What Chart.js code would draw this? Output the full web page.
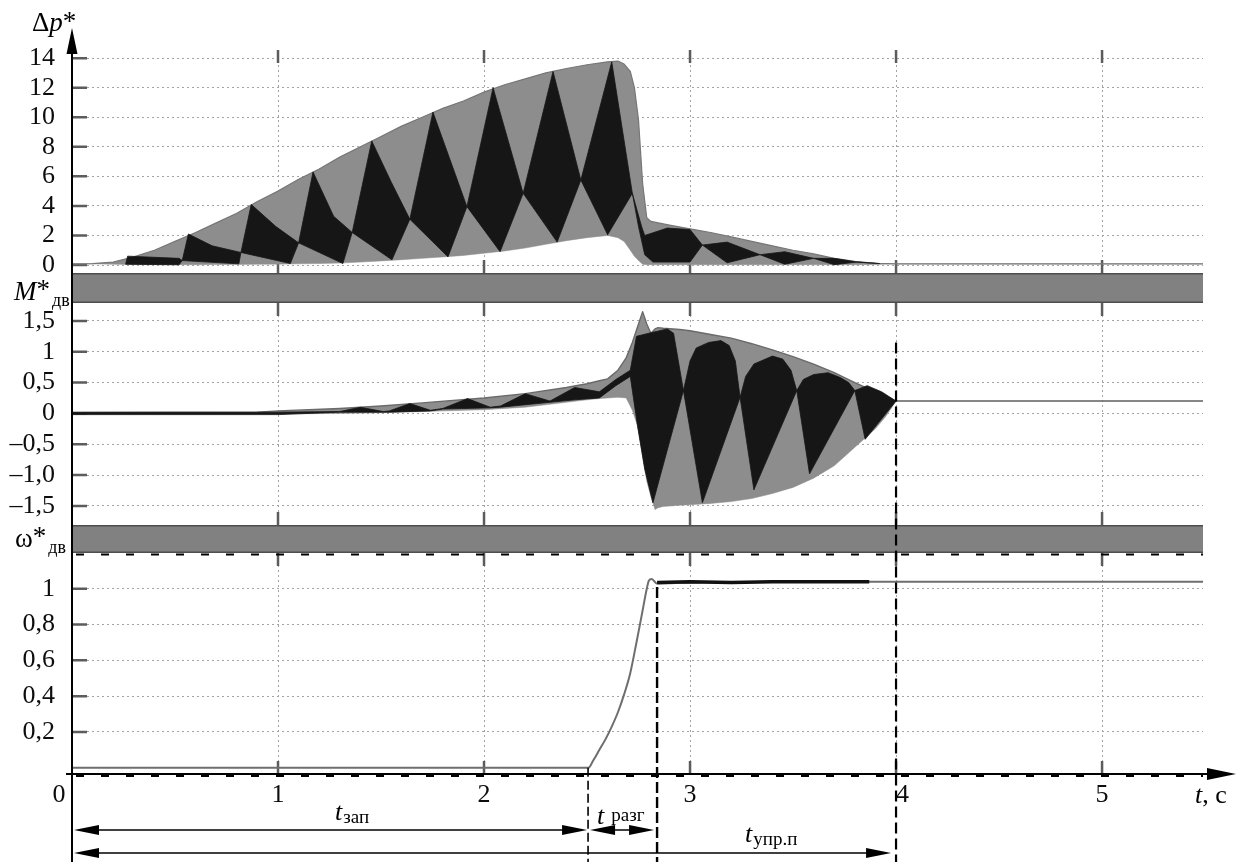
<!DOCTYPE html>
<html><head><meta charset="utf-8">
<script src="https://cdn.jsdelivr.net/npm/chart.js@4/dist/chart.umd.min.js"></script>
<style>html,body{margin:0;padding:0;background:#fff}#wrap{width:1240px;height:866px;position:relative}</style>
</head><body><div id="wrap"><canvas id="c" width="1240" height="866"></canvas></div>
<script>
// ---- top panel: Δp* envelope (gray) ----
const pT  = [0,0.1,0.2,0.3,0.4,0.5,0.6,0.7,0.8,0.9, 1.0,1.1,1.2,1.3,1.4,1.5,1.6,1.7,1.8,1.9, 2.0,2.1,2.2,2.3,2.4,2.5,2.6,2.65,2.68,2.71, 2.73,2.75,2.77,2.79,2.81,2.9,3.0,3.1,3.2,3.3, 3.4,3.5,3.6,3.7,3.8,3.9,4.0,5.5];
const pUp = [0.08,0.1,0.2,0.55,1.0,1.6,2.2,2.85,3.5,4.3, 5.0,5.8,6.5,7.3,8.0,8.7,9.4,10.0,10.6,11.1, 11.7,12.2,12.6,13.0,13.3,13.55,13.75,13.8,13.6,13.1, 12.0,9.8,5.5,3.2,2.95,2.7,2.45,2.2,1.9,1.6, 1.3,1.0,0.75,0.45,0.25,0.12,0.08,0.08];
const pLo = [0.08,0.08,0.05,0.03,0.02,0.02,0.02,0.03,0.04,0.05, 0.06,0.08,0.1,0.13,0.2,0.28,0.36,0.45,0.55,0.65, 0.8,0.95,1.15,1.4,1.65,1.85,2.0,1.85,1.6,1.0, 0.6,0.3,0.05,0.02,0.02,0.02,0.02,0.02,0.02,0.02, 0.02,0.02,0.02,0.02,0.02,0.03,0.08,0.08];
// ---- top panel: black beat lobes ----
const pBTt = [0.26,0.27,0.52,0.535,0.565,0.68,0.82,0.87,0.99,1.10, 1.17,1.27,1.36,1.455,1.55,1.64,1.752,1.917,2.044,2.19, 2.335,2.47,2.62,2.72,2.745,2.765,2.78,2.89,3.0,3.06, 3.18,3.34,3.46,3.60,3.70,3.81,3.92];
const pBTv = [0.05,0.6,0.45,0.3,2.1,1.3,0.85,4.1,2.6,1.5, 6.3,3.3,2.2,8.4,5.6,3.1,10.35,3.95,12.0,4.85, 13.1,5.75,13.75,4.85,3.6,2.6,2.0,2.5,2.4,1.35, 1.55,0.7,0.9,0.45,0.45,0.2,0.1];
const pBBt = [0.26,0.52,0.535,0.81,0.82,1.06,1.10,1.315,1.36,1.553, 1.64,1.825,1.917,2.078,2.19,2.355,2.47,2.60,2.72,2.75, 2.78,2.82,3.0,3.06,3.18,3.34,3.46,3.60,3.70,3.81, 3.92];
const pBBv = [0.05,0.02,0.3,0.08,0.85,0.1,1.5,0.1,2.2,0.35, 3.1,0.55,3.95,0.9,4.85,1.55,5.75,2.05,4.85,2.6, 0.7,0.2,0.2,1.35,0.15,0.7,0.05,0.45,0.02,0.2, 0.1];
// ---- middle panel: M*дв envelope ----
const mT  = [0,0.9,1.0,1.3,1.5,1.7,2.0,2.2,2.4,2.5, 2.56,2.6,2.65,2.69,2.72,2.745,2.77,2.79,2.81,2.83, 2.845,2.87,2.95,3.0,3.1,3.2,3.3,3.4,3.5,3.6, 3.7,3.8,3.9,3.95,4.0,5.5];
const mUp = [0.01,0.02,0.04,0.08,0.12,0.17,0.25,0.32,0.42,0.48, 0.53,0.56,0.7,0.9,1.15,1.4,1.65,1.45,1.3,1.37, 1.39,1.38,1.36,1.34,1.28,1.22,1.13,1.03,0.92,0.8, 0.66,0.5,0.35,0.27,0.2,0.2];
const mLo = [-0.01,-0.01,-0.01,0,0.01,0.03,0.06,0.1,0.18,0.22, 0.24,0.25,0.26,0.25,0.05,-0.2,-0.7,-1.1,-1.35,-1.56, -1.53,-1.51,-1.49,-1.48,-1.46,-1.43,-1.38,-1.3,-1.2,-1.05, -0.85,-0.55,-0.25,-0.05,0.2,0.2];
// ---- middle panel: black lobes ----
const mBTt = [0,1.0,1.30,1.40,1.51,1.54,1.64,1.74,1.80,1.92, 2.03,2.08,2.20,2.32,2.44,2.56,2.64,2.71,2.74,2.80, 2.89,2.92,2.968,3.0,3.03,3.09,3.15,3.19,3.22,3.243, 3.27,3.31,3.40,3.45,3.49,3.518,3.55,3.60,3.67,3.73, 3.77,3.80,3.86,3.93,4.0];
const mBTv = [0.02,0.02,0.03,0.1,0.03,0.04,0.16,0.05,0.08,0.24, 0.1,0.12,0.32,0.2,0.42,0.35,0.55,0.7,1.25,1.3, 1.37,1.3,0.37,0.85,1.06,1.15,1.18,1.1,0.85,0.26, 0.6,0.8,0.93,0.88,0.7,0.37,0.55,0.63,0.66,0.58, 0.5,0.37,0.45,0.35,0.2];
const mBBt = [0,1.0,1.30,1.51,1.54,1.74,1.80,2.03,2.08,2.32, 2.44,2.56,2.64,2.71,2.745,2.78,2.82,2.968,3.06,3.243, 3.31,3.518,3.58,3.80,3.85,4.0];
const mBBv = [-0.02,-0.02,0.02,0.02,0.02,0.04,0.07,0.09,0.1,0.18, 0.22,0.25,0.45,0.6,-0.2,-0.9,-1.45,0.37,-1.45,0.26, -1.24,0.37,-0.98,0.37,-0.42,0.2];
// ---- bottom panel: ω*дв ----
const wT = [0,2.507,2.53,2.56,2.59,2.62,2.65,2.68,2.71,2.74,2.77,2.79,2.80,2.814,2.838,3.0,3.5,4.0,5.49];
const wV = [0,0,0.04,0.1,0.16,0.23,0.31,0.41,0.53,0.70,0.88,1.0,1.045,1.055,1.03,1.035,1.04,1.04,1.04];
const wNT = [2.84,3.0,3.2,3.4,3.6,3.8,3.87];
const wNV = [1.035,1.04,1.035,1.04,1.04,1.04,1.04];
// ---- ticks ----
const xTickVals = [0,1,2,3,4,5];
const xTickLabels = ['0    ','1','2','3','  4','5'];
const pTickVals = [0,2,4,6,8,10,12,14];
const pTickLabels = ['0','2','4','6','8','10','12','14'];
const mTickVals = [-1.5,-1,-0.5,0,0.5,1,1.5];
const mTickLabels = ['\u20131,5','\u20131,0','\u20130,5','0','0,5','1','1,5'];
const wTickVals = [0.2,0.4,0.6,0.8,1];
const wTickLabels = ['0,2','0,4','0,6','0,8','1'];
// ---- markers (time instants) ----
const tStart = 2.505, tRise = 2.84, tEnd = 4.0;

const SERIF = "'Liberation Serif','Times New Roman',serif";
const GRAY = '#8d8d8d', BLACK = '#161616';
const pts = (t, v) => t.map((x, i) => ({x, y: v[i]}));

function yAxis(weight, sw, min, max, vals, labels) {
  return {
    type: 'linear', position: 'left', stack: 'v', stackWeight: sw, weight, min, max,
    afterBuildTicks: s => { s.ticks = vals.map(v => ({value: v})); },
    afterFit: s => { s.width = 72; },
    ticks: {callback: (v, i) => labels[i], font: {family: SERIF, size: 26}, color: '#0d0d0d', padding: 17, autoSkip: false},
    grid: {color: '#a4a4a4', lineWidth: 1, drawTicks: false},
    border: {display: false, dash: [2, 3]}
  };
}
function gapAxis(weight, sw) {
  return {type: 'linear', position: 'left', stack: 'v', stackWeight: sw, weight, min: 0, max: 1,
    afterFit: s => { s.width = 72; },
    ticks: {display: false}, grid: {display: false}, border: {display: false}};
}

function drawTri(ctx, a, b, c) { ctx.beginPath(); ctx.moveTo(a[0], a[1]); ctx.lineTo(b[0], b[1]); ctx.lineTo(c[0], c[1]); ctx.closePath(); ctx.fill(); }
function hArrow(ctx, x1, x2, y, head1, head2) {
  ctx.lineWidth = 1.5; ctx.setLineDash([]);
  ctx.beginPath(); ctx.moveTo(x1 + (head1 ? 10 : 0), y); ctx.lineTo(x2 - (head2 ? 10 : 0), y); ctx.stroke();
  if (head1) drawTri(ctx, [x1, y], [x1 + 25, y - 5], [x1 + 25, y + 5]);
  if (head2) drawTri(ctx, [x2, y], [x2 - 25, y - 5], [x2 - 25, y + 5]);
}
function put(ctx, s, x, y, font) { ctx.font = font; ctx.fillText(s, x, y); return ctx.measureText(s).width; }

const deco = {
  id: 'deco',
  beforeDatasetsDraw(chart) {
    const {ctx, chartArea: a, scales} = chart;
    ctx.save();
    ['g1', 'g2'].forEach(id => {
      const s = scales[id];
      ctx.fillStyle = '#818181';
      ctx.fillRect(a.left, s.top, a.right - a.left, s.bottom - s.top);
      ctx.strokeStyle = '#4e4e4e'; ctx.lineWidth = 1.5;
      ctx.beginPath();
      ctx.moveTo(a.left, s.top + 0.75); ctx.lineTo(a.right, s.top + 0.75);
      ctx.moveTo(a.left, s.bottom - 0.75); ctx.lineTo(a.right, s.bottom - 0.75);
      ctx.stroke();
    });
    ctx.strokeStyle = '#5c5c5c'; ctx.lineWidth = 2.5;
    ['yP', 'yM', 'yW'].forEach(id => {
      const s = scales[id];
      ctx.beginPath();
      s.ticks.forEach(t => { const y = s.getPixelForValue(t.value); ctx.moveTo(a.left, y); ctx.lineTo(a.left + 15, y); });
      scales.x.ticks.forEach(t => {
        if (t.value === 0) return;
        const x = scales.x.getPixelForValue(t.value);
        ctx.moveTo(x, s.top); ctx.lineTo(x, s.top + 13);
        ctx.moveTo(x, s.bottom); ctx.lineTo(x, s.bottom - 13);
      });
      ctx.stroke();
    });
    ctx.restore();
  },
  afterDraw(chart) {
    const {ctx, chartArea: a, scales} = chart;
    const X = v => scales.x.getPixelForValue(v);
    const sW = scales.yW, sM = scales.yM;
    ctx.save();
    ctx.fillStyle = '#000'; ctx.strokeStyle = '#000';
    ctx.lineWidth = 2; ctx.setLineDash([8, 17]);
    ctx.beginPath(); ctx.moveTo(a.left + 4, sW.top + 1.5); ctx.lineTo(a.right, sW.top + 1.5);
    ctx.moveTo(a.left + 4, a.bottom + 2); ctx.lineTo(a.right, a.bottom + 2); ctx.stroke();
    ctx.setLineDash([]);
    ctx.lineWidth = 2;
    ctx.beginPath(); ctx.moveTo(a.left, 50); ctx.lineTo(a.left, 862); ctx.stroke();
    drawTri(ctx, [a.left, 28], [a.left - 5.5, 54], [a.left + 5.5, 54]);
    ctx.beginPath(); ctx.moveTo(66, a.bottom); ctx.lineTo(1210, a.bottom); ctx.stroke();
    drawTri(ctx, [1236, a.bottom], [1207, a.bottom - 6], [1207, a.bottom + 6]);
    const marks = [[tStart, sW.getPixelForValue(0.0), 1.6, [9, 4]], [tRise, sW.getPixelForValue(1.01), 2.4, [11, 4]], [tEnd, sM.getPixelForValue(1.15), 2.2, [11, 5]]];
    marks.forEach(m => {
      ctx.lineWidth = m[2]; ctx.setLineDash(m[3]);
      ctx.beginPath(); ctx.moveTo(X(m[0]), m[1]); ctx.lineTo(X(m[0]), 862); ctx.stroke();
    });
    ctx.setLineDash([]);
    hArrow(ctx, a.left + 2, X(tStart) - 1, 830, true, true);
    hArrow(ctx, X(tStart) + 2, X(tRise) - 3, 830, true, true);
    hArrow(ctx, a.left + 2, X(tEnd) - 5, 853, true, true);
    ctx.textAlign = 'left'; ctx.textBaseline = 'alphabetic';
    let x = X(1.277);
    x += put(ctx, 't', x, 820, 'italic 26px ' + SERIF) + 1;
    put(ctx, 'зап', x, 823, '19px ' + SERIF);
    x = X(2.549);
    x += put(ctx, 't', x, 824, 'italic 26px ' + SERIF) + 7;
    put(ctx, 'разг', x, 821, '19px ' + SERIF);
    x = X(3.267);
    x += put(ctx, 't', x, 842, 'italic 26px ' + SERIF) + 1;
    put(ctx, 'упр.п', x, 845, '19px ' + SERIF);
    x = 32;
    x += put(ctx, 'Δ', x, 31, '27px ' + SERIF);
    x += put(ctx, 'p', x, 31, 'italic 27px ' + SERIF);
    put(ctx, '*', x, 30, '27px ' + SERIF);
    x = 14;
    x += put(ctx, 'M', x, 300, 'italic 27px ' + SERIF);
    x += put(ctx, '*', x, 298, '27px ' + SERIF);
    put(ctx, 'дв', x + 2, 306, '18px ' + SERIF);
    x = 15;
    x += put(ctx, 'ω', x, 547, '27px ' + SERIF);
    x += put(ctx, '*', x, 545, '27px ' + SERIF);
    put(ctx, 'дв', x + 2, 553, '18px ' + SERIF);
    x = 1195;
    x += put(ctx, 't', x, 803, 'italic 26px ' + SERIF);
    put(ctx, ', с', x, 803, '26px ' + SERIF);
    ctx.restore();
  }
};

const lineBase = {pointRadius: 0, tension: 0, borderJoinStyle: 'round'};
new Chart(document.getElementById('c'), {
  type: 'line',
  data: {datasets: [
    Object.assign({data: pts(pT, pUp), yAxisID: 'yP', fill: 1, backgroundColor: GRAY, borderColor: '#777', borderWidth: 1.2, order: 3}, lineBase),
    Object.assign({data: pts(pT, pLo), yAxisID: 'yP', fill: false, borderColor: GRAY, borderWidth: 0.5, order: 3}, lineBase),
    Object.assign({data: pts(pBTt, pBTv), yAxisID: 'yP', fill: 3, backgroundColor: BLACK, borderColor: BLACK, borderWidth: 0.8, order: 2}, lineBase),
    Object.assign({data: pts(pBBt, pBBv), yAxisID: 'yP', fill: false, borderColor: BLACK, borderWidth: 0.8, order: 2}, lineBase),
    Object.assign({data: pts(mT, mUp), yAxisID: 'yM', fill: 5, backgroundColor: GRAY, borderColor: '#6a6a6a', borderWidth: 1.4, order: 3}, lineBase),
    Object.assign({data: pts(mT, mLo), yAxisID: 'yM', fill: false, borderColor: GRAY, borderWidth: 0.5, order: 3}, lineBase),
    Object.assign({data: pts(mBTt, mBTv), yAxisID: 'yM', fill: 7, backgroundColor: BLACK, borderColor: BLACK, borderWidth: 0.8, order: 2}, lineBase),
    Object.assign({data: pts(mBBt, mBBv), yAxisID: 'yM', fill: false, borderColor: BLACK, borderWidth: 0.8, order: 2}, lineBase),
    Object.assign({data: pts(wT, wV), yAxisID: 'yW', fill: false, borderColor: '#6e6e6e', borderWidth: 2, order: 1}, lineBase, {cubicInterpolationMode: 'monotone'}),
    Object.assign({data: pts(wNT, wNV), yAxisID: 'yW', fill: false, borderColor: '#111', borderWidth: 3.5, order: 0}, lineBase)
  ]},
  options: {
    responsive: false, animation: false, devicePixelRatio: 1,
    layout: {padding: {top: 50, right: 37, bottom: 0, left: 0}},
    plugins: {legend: {display: false}, tooltip: {enabled: false}},
    scales: {
      x: {type: 'linear', position: 'bottom', min: 0, max: 5.49,
        afterBuildTicks: s => { s.ticks = xTickVals.map(v => ({value: v})); },
        afterFit: s => { s.height = 92; },
        ticks: {callback: (v, i) => xTickLabels[i], font: {family: SERIF, size: 26}, color: '#0d0d0d', padding: 6, maxRotation: 0, autoSkip: false},
        grid: {color: '#a4a4a4', lineWidth: 1, drawTicks: false},
        border: {display: false, dash: [2, 3]}},
      yP: yAxis(5, 223, -0.54, 14.55, pTickVals, pTickLabels),
      g1: gapAxis(4, 30),
      yM: yAxis(3, 222, -1.81, 1.79, mTickVals, mTickLabels),
      g2: gapAxis(2, 28),
      yW: yAxis(1, 221, -0.035, 1.2, wTickVals, wTickLabels)
    }
  },
  plugins: [deco]
});
</script></body></html>
